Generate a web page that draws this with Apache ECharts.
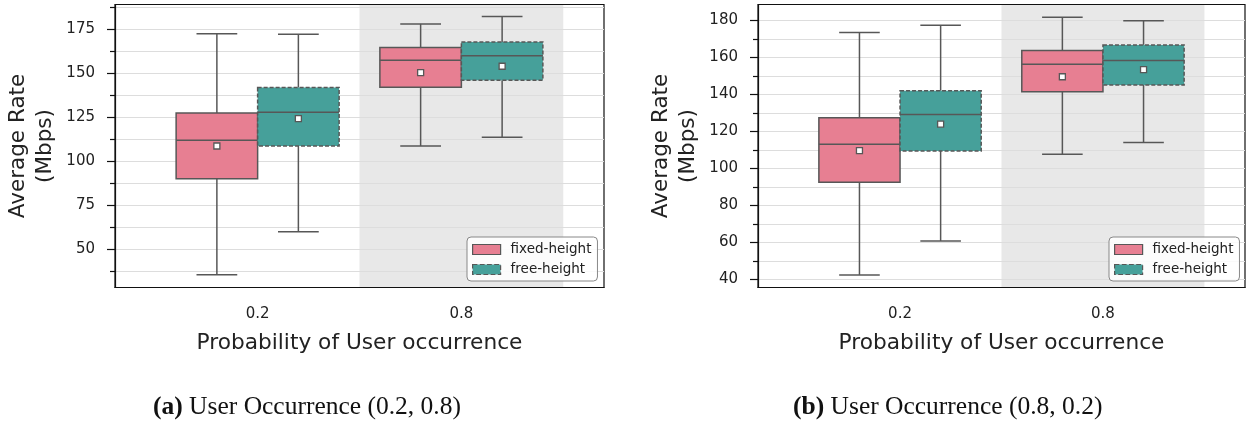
<!DOCTYPE html>
<html>
<head>
<meta charset="utf-8">
<script src="https://cdn.jsdelivr.net/npm/echarts@6/dist/echarts.min.js"></script>
<style>
  html, body { margin: 0; padding: 0; background: #ffffff; }
  #chart { width: 1247px; height: 425px; }
</style>
</head>
<body>
<div id="chart"></div>
<script>
// Categories on the x axis and the two hue groups
const categories = ['0.2', '0.8'];
const hues = ['fixed-height', 'free-height'];

// Box statistics per category: [lower whisker, Q1, median, Q3, upper whisker]
// (a) User Occurrence (0.2, 0.8)
const fixedA = [[35.6, 90.1, 111.8, 127.3, 172.2], [108.6, 141.9, 157.2, 164.4, 177.8]];
const freeA = [[60.0, 108.6, 127.7, 141.7, 172.0], [113.5, 145.9, 159.7, 167.5, 182.0]];
const fixedAMean = [108.6, 150.2];
const freeAMean = [124.1, 153.8];
// (b) User Occurrence (0.8, 0.2)
const fixedB = [[42.5, 92.5, 113.0, 127.4, 173.4], [107.6, 141.4, 156.3, 163.7, 181.6]];
const freeB = [[60.8, 109.4, 129.1, 141.9, 177.3], [114.0, 145.1, 158.3, 166.7, 179.7]];
const fixedBMean = [109.6, 149.5];
const freeBMean = [123.9, 153.3];

// Highlighted category (index into categories)
const shadedCategory = [1];

// Y axis ranges and tick values
const yRangeA = [28.4, 188.8];
const yTicksA = [50, 75, 100, 125, 150, 175];
const yMinorA = [37.5, 62.5, 87.5, 112.5, 137.5, 162.5, 187.5];
const yRangeB = [35.7, 188.5];
const yTicksB = [40, 60, 80, 100, 120, 140, 160, 180];
const yMinorB = [50, 70, 90, 110, 130, 150, 170];

const captions = [['(a)', ' User Occurrence (0.2, 0.8)'], ['(b)', ' User Occurrence (0.8, 0.2)']];

// Layout / style constants
const FONT = 'DejaVu Sans';
const colors = ['#e77f92', '#46a09a'];
const edge = '#575757';
const boxWidth = 0.4;
const hueOffsets = [-0.2, 0.2];
const grids = [
  { left: 115, top: 4.5, width: 489, height: 283 },
  { left: 758, top: 4.5, width: 487, height: 283 }
];

function rows(stats, means) {
  return stats.map((s, i) => [i].concat(s, [means[i]]));
}

function boxRenderer(hueIndex) {
  const dashed = hueIndex === 1;
  return function (params, api) {
    const x = api.value(0) + hueOffsets[hueIndex];
    const half = boxWidth / 2;
    const lo = api.value(1), q1 = api.value(2), med = api.value(3),
          q3 = api.value(4), hi = api.value(5), mean = api.value(6);
    const p = (xx, yy) => api.coord([xx, yy]);
    const lineStyle = { stroke: edge, lineWidth: 1.5 };
    const tl = p(x - half, q3), br = p(x + half, q1);
    const mid = p(x, mean);
    const children = [
      { type: 'line', shape: { x1: p(x, q3)[0], y1: p(x, q3)[1], x2: p(x, hi)[0], y2: p(x, hi)[1] }, style: lineStyle },
      { type: 'line', shape: { x1: p(x, q1)[0], y1: p(x, q1)[1], x2: p(x, lo)[0], y2: p(x, lo)[1] }, style: lineStyle },
      { type: 'line', shape: { x1: p(x - half / 2, hi)[0], y1: p(x, hi)[1], x2: p(x + half / 2, hi)[0], y2: p(x, hi)[1] }, style: lineStyle },
      { type: 'line', shape: { x1: p(x - half / 2, lo)[0], y1: p(x, lo)[1], x2: p(x + half / 2, lo)[0], y2: p(x, lo)[1] }, style: lineStyle },
      { type: 'rect', shape: { x: tl[0], y: tl[1], width: br[0] - tl[0], height: br[1] - tl[1] },
        style: { fill: colors[hueIndex], stroke: edge, lineWidth: 1.5, lineDash: dashed ? [4, 2] : null } },
      { type: 'line', shape: { x1: tl[0], y1: p(x, med)[1], x2: br[0], y2: p(x, med)[1] }, style: lineStyle },
      { type: 'rect', shape: { x: mid[0] - 3, y: mid[1] - 3, width: 6, height: 6 },
        style: { fill: '#ffffff', stroke: edge, lineWidth: 1.3 } }
    ];
    return { type: 'group', children: children };
  };
}

function shadeRenderer(params, api) {
  const c = api.value(0);
  const cs = params.coordSys;
  const a = api.coord([c - 0.5, 0])[0];
  const b = api.coord([c + 0.5, 0])[0];
  return { type: 'rect', shape: { x: a, y: cs.y, width: b - a, height: cs.height }, style: { fill: '#e8e8e8' } };
}

const xAxes = grids.map((g, i) => ({
  type: 'value', gridIndex: i, min: -0.7, max: 1.7,
  axisLine: { show: true, onZero: false, lineStyle: { color: '#111', width: 1.2 } },
  axisTick: { show: false, customValues: [0, 1] },
  splitLine: { show: false },
  axisLabel: { customValues: [0, 1], formatter: v => categories[Math.round(v)],
    fontFamily: FONT, fontSize: 15, color: '#222', margin: 19 },
  name: 'Probability of User occurrence', nameLocation: 'middle', nameGap: 45,
  nameTextStyle: { fontFamily: FONT, fontSize: 21.7, color: '#222' }
}));

function yPair(gi, range, major, minor) {
  return [
    {
      type: 'value', gridIndex: gi, position: 'left', min: range[0], max: range[1],
      axisLine: { show: true, onZero: false, lineStyle: { color: '#111', width: 1.2 } },
      axisTick: { show: true, customValues: major, length: 8, lineStyle: { color: '#111', width: 1.2 } },
      axisLabel: { customValues: major, fontFamily: FONT, fontSize: 15, color: '#222', margin: 20 },
      splitLine: { show: true, lineStyle: { color: '#dddddd', width: 1 } },
      name: 'Average Rate\n(Mbps)', nameLocation: 'middle', nameGap: 56,
      nameTextStyle: { fontFamily: FONT, fontSize: 21.5, lineHeight: 27, color: '#222' }
    },
    {
      type: 'value', gridIndex: gi, position: 'left', min: range[0], max: range[1],
      axisLine: { show: false, onZero: false },
      axisTick: { show: true, customValues: minor, length: 5, lineStyle: { color: '#111', width: 1.2 } },
      axisLabel: { show: false },
      splitLine: { show: true, lineStyle: { color: '#dddddd', width: 1 } }
    }
  ];
}

const yAxes = yPair(0, yRangeA, yTicksA, yMinorA).concat(yPair(1, yRangeB, yTicksB, yMinorB));

const panels = [
  { fixed: rows(fixedA, fixedAMean), free: rows(freeA, freeAMean) },
  { fixed: rows(fixedB, fixedBMean), free: rows(freeB, freeBMean) }
];

const series = [];
panels.forEach((pn, i) => {
  series.push({ type: 'custom', name: 'shade' + i, xAxisIndex: i, yAxisIndex: i * 2, z: -1,
    silent: true, renderItem: shadeRenderer, data: shadedCategory.map(c => [c]) });
  series.push({ type: 'custom', name: hues[0], xAxisIndex: i, yAxisIndex: i * 2, z: 3,
    itemStyle: { color: colors[0] }, renderItem: boxRenderer(0), data: pn.fixed });
  series.push({ type: 'custom', name: hues[1], xAxisIndex: i, yAxisIndex: i * 2, z: 3,
    itemStyle: { color: colors[1] }, renderItem: boxRenderer(1), data: pn.free });
});

const legendItems = hues.map((h, i) => ({
  name: h, icon: 'rect',
  itemStyle: { color: colors[i], borderColor: edge, borderWidth: 1.2, borderType: i === 1 ? 'dashed' : 'solid' }
}));
const legendPos = [{ left: 467, top: 237 }, { left: 1109, top: 237 }];
const legends = legendPos.map(pos => ({
  left: pos.left, top: pos.top, orient: 'vertical', data: legendItems, icon: 'rect',
  itemWidth: 28, itemHeight: 10, itemGap: 5, selectedMode: false,
  padding: [5, 6, 4, 5], backgroundColor: 'rgba(255,255,255,0.85)',
  borderColor: '#888', borderWidth: 1, borderRadius: 4,
  textStyle: { fontFamily: FONT, fontSize: 13.5, color: '#222', lineHeight: 15, padding: [0, 0, 0, 5] }
}));

const captionX = [153, 793];
const graphics = captions.map((c, i) => ({
  type: 'text', left: captionX[i], top: 394,
  style: {
    text: '{b|' + c[0] + '}' + c[1],
    fontFamily: 'Liberation Serif', fontSize: 25.5, fill: '#111',
    rich: { b: { fontFamily: 'Liberation Serif', fontSize: 25.5, fontWeight: 'bold', fill: '#111' } }
  }
}));

const chart = echarts.init(document.getElementById('chart'), null, { renderer: 'canvas' });
chart.setOption({
  animation: false,
  backgroundColor: '#ffffff',
  grid: grids.map(g => Object.assign({ show: true, borderColor: '#111', borderWidth: 1.2, backgroundColor: 'transparent' }, g)),
  xAxis: xAxes,
  yAxis: yAxes,
  legend: legends,
  series: series,
  graphic: graphics
});
</script>
</body>
</html>
